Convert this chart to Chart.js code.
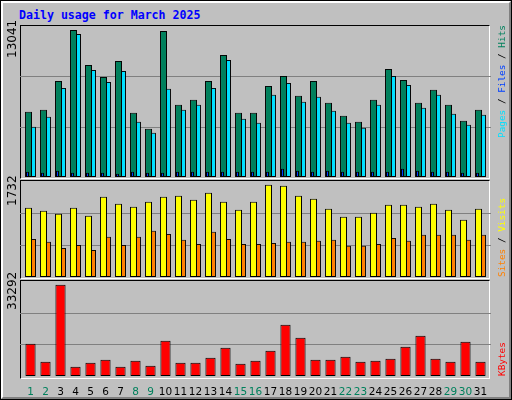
<!DOCTYPE html>
<html><head><meta charset="utf-8">
<script src="https://cdn.jsdelivr.net/npm/chart.js@4"></script>
<style>
body{margin:0;width:512px;height:400px;overflow:hidden;background:#fff}
#outer{position:absolute;left:0;top:0;width:510px;height:398px;border:1px solid #000;background:#c0c0c0}
#bev{position:absolute;left:0;top:0;width:506px;height:394px;border-top:2px solid #fff;border-left:2px solid #fff;border-right:2px solid #808080;border-bottom:2px solid #808080}
.panel{position:absolute;left:20px;width:470px;border-top:1px solid #000;border-left:1px solid #000;border-right:1px solid #fff;border-bottom:1px solid #fff;box-sizing:border-box}
canvas{position:absolute}
.rot{position:absolute;transform-origin:0 0;transform:rotate(-90deg);white-space:nowrap}
.vl{font:12px "DejaVu Sans";color:#000}
.rl{font:9.4px "DejaVu Sans Mono";}
#title{position:absolute;left:19px;top:8px;font:bold 11.6px "DejaVu Sans Mono";color:#0000ff}
</style></head><body>
<div id="outer"><div id="bev"></div></div>
<div id="title">Daily usage for March 2025</div>
<div class="panel" style="top:25px;height:154px"></div>
<div class="panel" style="top:180px;height:99px"></div>
<div class="panel" style="top:280px;height:99px"></div>
<canvas id="c1" style="left:20px;top:26px;width:471px;height:151px"></canvas>
<canvas id="c1b" style="left:20px;top:26px;width:471px;height:151px"></canvas>
<canvas id="c2" style="left:20px;top:181px;width:471px;height:96px"></canvas>
<canvas id="c3" style="left:20px;top:281px;width:471px;height:115px"></canvas>
<div class="rot vl" style="left:5px;top:58px">13041</div>
<div class="rot vl" style="left:5px;top:206px">1732</div>
<div class="rot vl" style="left:5px;top:310px">33292</div>
<div class="rot rl" style="left:496px;top:138px"><span style="color:#00e0ff">Pages</span><span style="color:#000"> / </span><span style="color:#0040ff">Files</span><span style="color:#000"> / </span><span style="color:#00805c">Hits</span></div>
<div class="rot rl" style="left:496px;top:277px"><span style="color:#ff8000">Sites</span><span style="color:#000"> / </span><span style="color:#ffff00">Visits</span></div>
<div class="rot rl" style="left:496px;top:376px"><span style="color:#ff0000">KBytes</span></div>
<script>
const days=[];for(let d=1;d<=31;d++)days.push(String(d));
const weekend=[1,2,8,9,15,16,22,23,29,30];
const hits=[5782,5959,8526,13041,9942,8880,10296,5694,4278,12951,6402,6844,8526,10827,5694,5694,8083,8968,7198,8526,6579,5428,4897,6844,9588,8614,6579,7729,6402,4986,5959];
const pages=[4455,5340,7906,12685,9499,8437,9411,4897,3924,7818,5959,6402,7906,10384,5163,4809,7287,8349,6667,7110,5871,4809,4366,6402,8968,8172,6136,7287,5605,4632,5517];
const files=[472,384,560,384,384,384,295,472,384,384,472,472,472,472,472,472,472,738,560,472,560,472,472,472,472,738,560,472,472,384,384];
const visits=[1299,1242,1186,1299,1148,1506,1374,1318,1412,1506,1525,1450,1581,1412,1261,1412,1732,1713,1525,1468,1280,1130,1130,1205,1355,1355,1318,1374,1261,1073,1280];
const sites=[715,659,546,602,508,753,602,753,866,809,697,621,847,715,621,621,640,659,659,678,697,584,584,621,734,678,791,791,791,697,791];
const kbytes=[11786,5225,33292,3402,4860,5954,3402,5589,3767,12879,4860,4860,6683,10328,4496,5589,9234,18711,13973,5954,5954,7047,5225,5589,6318,10692,14702,6318,5225,12515,5225];
const maxes=[13395,1801,34629];

const gridPlugin={id:'g',beforeDatasetsDraw(ch){const y=ch.scales.y,c=ch.ctx;c.save();c.strokeStyle='#808080';c.lineWidth=1;
 [y.max/3,2*y.max/3].forEach(v=>{const p=Math.round(y.getPixelForValue(v))+0.5;c.beginPath();c.moveTo(0,p);c.lineTo(ch.width,p);c.stroke();});c.restore();}};
function xs(show){return {type:'category',display:show,offset:true,grid:{display:false},border:{display:false},
 ticks:{font:{family:'DejaVu Sans',size:10.5},padding:2,maxRotation:0,autoSkip:false,color:c=>weekend.includes(Number(days[c.index]))?'#00805c':'#000'},
 afterFit:s=>{if(show)s.height=20;}};}
function bar(label,data,color,bp,cp){return {label,data,backgroundColor:color,borderColor:'#000',borderWidth:1,borderSkipped:false,barPercentage:bp,categoryPercentage:cp};}
function mk(id,datasets,max,showX,grid,pad){
 new Chart(document.getElementById(id),{type:'bar',data:{labels:days,datasets},plugins:grid?[gridPlugin]:[],
 options:{responsive:false,animation:false,events:[],layout:{padding:pad||{left:3,right:3,top:0,bottom:0}},
 plugins:{legend:{display:false},tooltip:{enabled:false}},scales:{x:xs(showX),y:{display:false,min:0,max:max}}}});
}
for(const id of ['c1','c1b','c2','c3']){const c=document.getElementById(id);c.width=parseInt(c.style.width);c.height=parseInt(c.style.height);}
mk('c1',[bar('Hits',hits,'#00805c',1.75,0.53),bar('Pages',pages,'#00e0ff',1.75,0.53)],maxes[0],false,true);
mk('c1b',[bar('Files',files,'#0040ff',0.2,1)],maxes[0],false,false,{left:0,right:6,top:0,bottom:0});
mk('c2',[bar('Visits',visits,'#ffff00',1.75,0.53),bar('Sites',sites,'#ff8000',1.75,0.53)],maxes[1],false,true);
mk('c3',[bar('KBytes',kbytes,'#ff0000',0.7,0.97)],maxes[2],true,true);
</script></body></html>
